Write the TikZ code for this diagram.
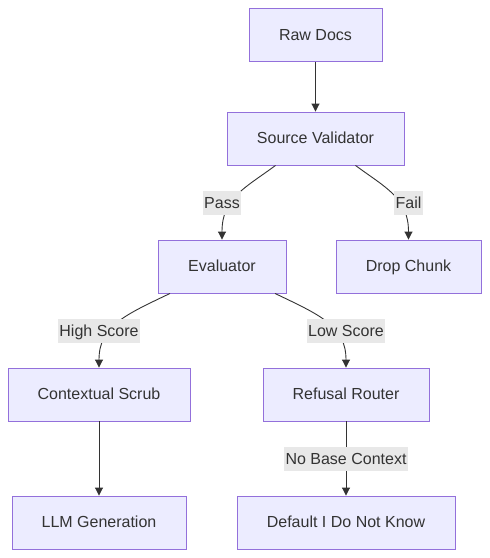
\documentclass[tikz,border=0pt]{standalone}
\usepackage{fontspec}
\setmainfont{Liberation Sans}
\usetikzlibrary{arrows.meta}

\definecolor{boxfill}{HTML}{ECECFF}
\definecolor{boxline}{HTML}{9370DB}
\definecolor{edgeline}{HTML}{333333}
\definecolor{lblfill}{HTML}{E8E8E8}

\tikzset{
    stage/.style={draw=boxline, fill=boxfill, line width=0.9pt, minimum height=53pt,
        text=edgeline, font=\fontsize{16}{19}\selectfont, inner sep=0pt,
        text height=11.5pt, text depth=1.5pt},
    flow/.style={draw=edgeline, line width=0.9pt, -{Triangle[length=8pt,width=8pt]}},
    lbl/.style={fill=lblfill, text=edgeline, font=\fontsize{16}{19}\selectfont,
        inner xsep=1.5pt, inner ysep=0pt, minimum height=24pt,
        text height=11.5pt, text depth=1.5pt}
}

\begin{document}
\begin{tikzpicture}[x=1pt, y=-1pt]
    \useasboundingbox (0,0) rectangle (490,558);

    % stages
    \node[stage, minimum width=133pt] (raw)    at (315.5,35)  {Raw Docs};
    \node[stage, minimum width=177pt] (valid)  at (315.5,138.5) {Source Validator};
    \node[stage, minimum width=128pt] (eval)   at (222,266.5) {Evaluator};
    \node[stage, minimum width=145pt] (drop)   at (408.5,266.5) {Drop Chunk};
    \node[stage, minimum width=182pt] (scrub)  at (99,394.5)  {Contextual Scrub};
    \node[stage, minimum width=166pt] (refuse) at (346,394.5) {Refusal Router};
    \node[stage, minimum width=174pt] (llm)    at (99,522.5)  {LLM Generation};
    \node[stage, minimum width=218pt] (dunno)  at (346,522.5) {Default I Do Not Know};

    % connectors
    \draw[flow] (raw.south) -- (valid.north);
    \draw[flow] ([xshift=-40pt]valid.south) .. controls (245,188) and (222,198) .. (eval.north);
    \draw[flow] ([xshift=40pt]valid.south) .. controls (386,188) and (408.5,198) .. (drop.north);
    \draw[flow] ([xshift=-52pt]eval.south) .. controls (125,315) and (99,326) .. (scrub.north);
    \draw[flow] ([xshift=53pt]eval.south) .. controls (320,315) and (346,326) .. (refuse.north);
    \draw[flow] (scrub.south) -- (llm.north);
    \draw[flow] (refuse.south) -- (dunno.north);

    % edge labels
    \node[lbl] (pass) at (222,203) {Pass};
    \node[lbl] (fail) at (408.5,203) {Fail};
    \node[lbl] (high) at (99,331)  {High Score};
    \node[lbl] (low)  at (346,331) {Low Score};
    \node[lbl] (nobase) at (346,459) {No Base Context};
\end{tikzpicture}
\end{document}
